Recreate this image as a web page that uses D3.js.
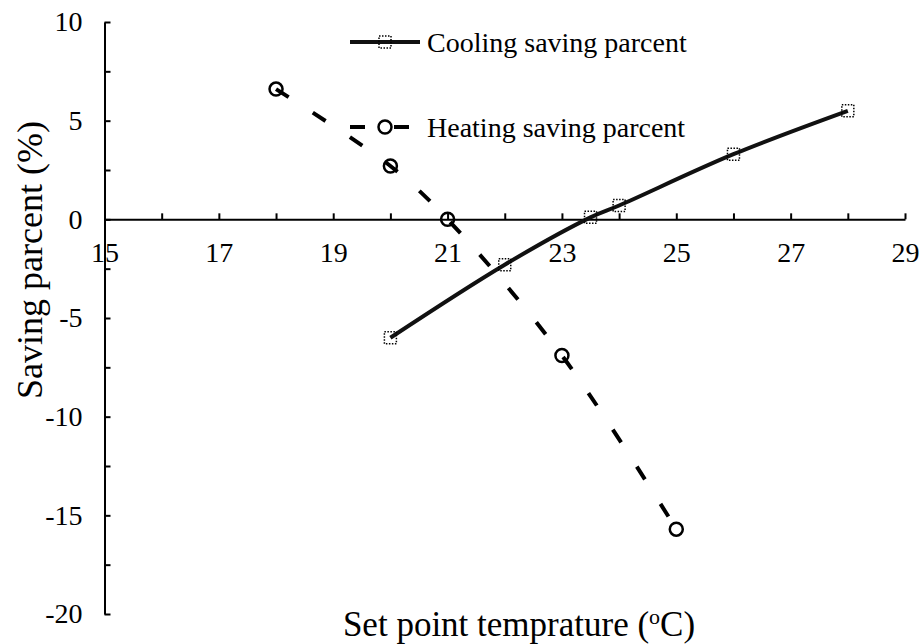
<!DOCTYPE html>
<html>
<head>
<meta charset="utf-8">
<script src="https://cdn.jsdelivr.net/npm/d3@7"></script>
<style>
  html, body { margin: 0; padding: 0; background: #fff; }
  svg { display: block; }
  svg text { fill: #000; }
</style>
</head>
<body>
<svg id="chart" width="922" height="644"></svg>
<script>
// ---- data ----
const coolingX = [20, 22, 23.5, 24, 26, 28];
const coolingY = [-6.0, -2.3, 0.1, 0.7, 3.3, 5.5];
const heatingX = [18, 20, 21, 23, 25];
const heatingY = [6.6, 2.7, 0.0, -6.9, -15.7];
const xTicks = [15, 16, 17, 18, 19, 20, 21, 22, 23, 24, 25, 26, 27, 28, 29];
const xLabels = [15, 17, 19, 21, 23, 25, 27, 29];
const yTicks = [-20, -17.5, -15, -12.5, -10, -7.5, -5, -2.5, 0, 2.5, 5, 7.5, 10];
const yLabels = [-20, -15, -10, -5, 0, 5, 10];
const seriesNames = ["Cooling saving parcent", "Heating saving parcent"];
const xTitle = "Set point temprature (";
const yTitle = "Saving parcent (%)";

const FONT = '"Liberation Serif", "Times New Roman", Times, "DejaVu Serif", serif';
const svg = d3.select("#chart");
const x = d3.scaleLinear().domain([15, 29]).range([104.5, 905]);
const y = d3.scaleLinear().domain([-20, 10]).range([614, 22]);

// Y axis
const yAxis = d3.axisLeft(y)
  .tickValues(yTicks)
  .tickSize(-6)
  .tickSizeOuter(0)
  .tickPadding(22)
  .tickFormat(d => yLabels.includes(d) ? String(d) : "");
const gy = svg.append("g").attr("transform", `translate(${x(15)},0)`).call(yAxis)
  .attr("font-family", FONT).attr("font-size", 28);
gy.select(".domain").attr("stroke", "#000").attr("stroke-width", 2);
gy.selectAll(".tick line").attr("stroke", "#000").attr("stroke-width", 2);

// X axis (at y = 0)
const xAxis = d3.axisBottom(x)
  .tickValues(xTicks)
  .tickSize(-6)
  .tickSizeOuter(0)
  .tickPadding(23)
  .tickFormat(d => xLabels.includes(d) ? String(d) : "");
const gx = svg.append("g").attr("transform", `translate(0,${y(0)})`).call(xAxis)
  .attr("font-family", FONT).attr("font-size", 28);
gx.select(".domain").attr("stroke", "#000").attr("stroke-width", 2);
gx.selectAll(".tick line").attr("stroke", "#000").attr("stroke-width", 2);

// Lines
const cooling = coolingX.map((v, i) => [v, coolingY[i]]);
const heating = heatingX.map((v, i) => [v, heatingY[i]]);
const line = d3.line().x(d => x(d[0])).y(d => y(d[1])).curve(d3.curveCatmullRom.alpha(0.5));

svg.append("path").datum(cooling).attr("d", line)
  .attr("fill", "none").attr("stroke", "#111").attr("stroke-width", 4);
svg.append("path").datum(heating).attr("d", line)
  .attr("fill", "none").attr("stroke", "#000").attr("stroke-width", 4)
  .attr("stroke-dasharray", "15,29");

// Markers
const sq = 12;
svg.selectAll(".sq").data(cooling).enter().append("rect")
  .attr("x", d => x(d[0]) - sq / 2).attr("y", d => y(d[1]) - sq / 2)
  .attr("width", sq).attr("height", sq)
  .attr("fill", "none").attr("stroke", "#000").attr("stroke-width", 1.5)
  .attr("stroke-dasharray", "1.5,1.5");
svg.selectAll(".ci").data(heating).enter().append("circle")
  .attr("cx", d => x(d[0])).attr("cy", d => y(d[1])).attr("r", 6.5)
  .attr("fill", "none").attr("stroke", "#000").attr("stroke-width", 2.5);

// Legend
const lg = svg.append("g").attr("font-family", FONT);
lg.append("line").attr("x1", 350).attr("x2", 420).attr("y1", 42).attr("y2", 42)
  .attr("stroke", "#111").attr("stroke-width", 4);
lg.append("rect").attr("x", 385 - sq / 2).attr("y", 42 - sq / 2).attr("width", sq).attr("height", sq)
  .attr("fill", "none").attr("stroke", "#000").attr("stroke-width", 1.5).attr("stroke-dasharray", "1.5,1.5");
lg.append("text").attr("x", 427).attr("y", 42).attr("dy", "0.35em")
  .attr("font-size", 28).text(seriesNames[0]);
lg.append("line").attr("x1", 350).attr("x2", 420).attr("y1", 127).attr("y2", 127)
  .attr("stroke", "#000").attr("stroke-width", 4).attr("stroke-dasharray", "15,29");
lg.append("circle").attr("cx", 385).attr("cy", 127).attr("r", 6.5)
  .attr("fill", "none").attr("stroke", "#000").attr("stroke-width", 2.5);
lg.append("text").attr("x", 427).attr("y", 127).attr("dy", "0.35em")
  .attr("font-size", 28).text(seriesNames[1]);

// Axis titles
const xt = svg.append("text").attr("x", 519).attr("y", 636).attr("text-anchor", "middle")
  .attr("font-family", FONT).attr("font-size", 35);
xt.append("tspan").text(xTitle);
xt.append("tspan").attr("baseline-shift", "super").attr("font-size", 22).text("o");
xt.append("tspan").text("C)");

svg.append("text").attr("transform", "translate(42,260) rotate(-90)")
  .attr("font-family", FONT).attr("text-anchor", "middle").attr("font-size", 36).text(yTitle);
</script>
</body>
</html>
